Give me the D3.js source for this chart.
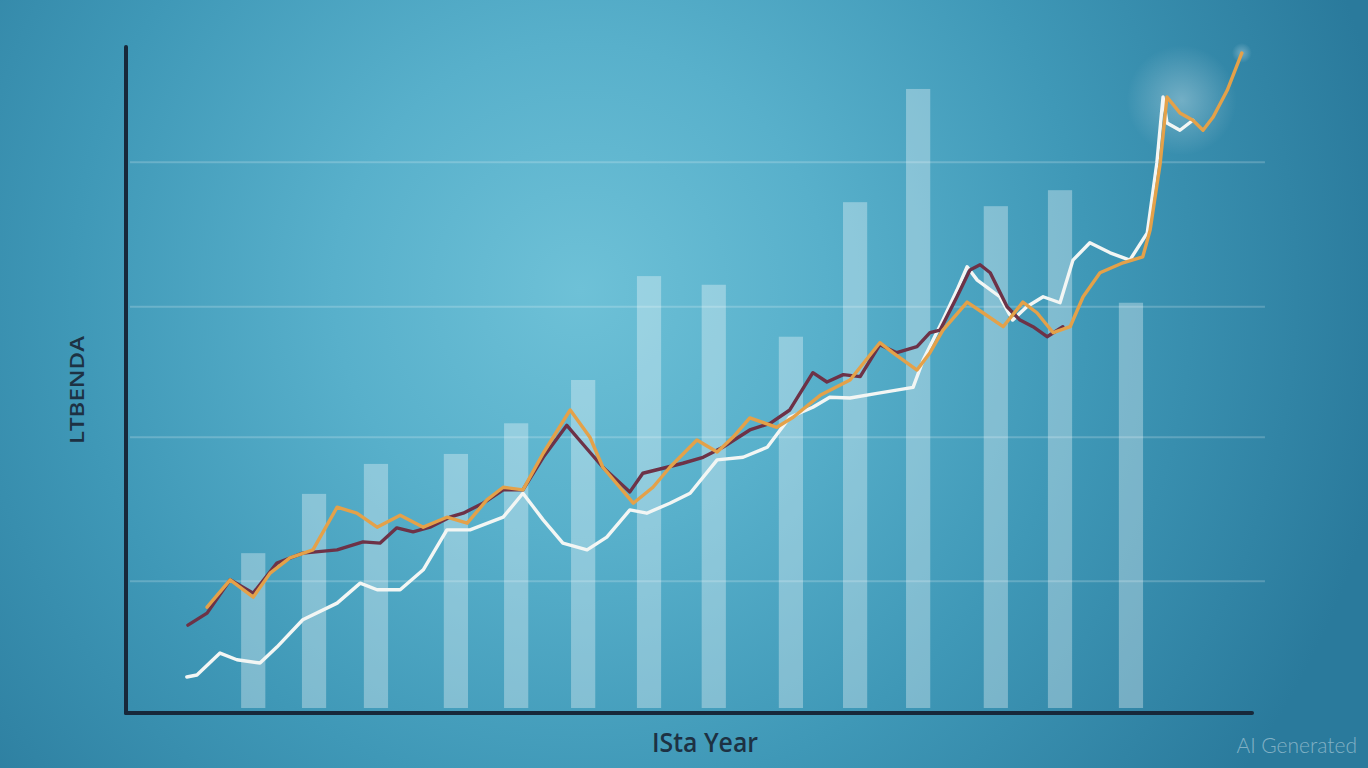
<!DOCTYPE html>
<html>
<head>
<meta charset="utf-8">
<script src="https://cdn.jsdelivr.net/npm/d3@7"></script>
<style>
  html, body { margin: 0; padding: 0; overflow: hidden; }
  svg { display: block; }
</style>
</head>
<body>
<div id="chart"></div>
<script>
// bar positions (year index) and heights
const barYears = [2.26, 3.34, 4.44, 5.86, 6.93, 8.12, 9.29, 10.44, 11.81, 12.95, 14.07, 15.45, 16.59, 17.85];
const barValues = [24.0, 32.9, 37.4, 38.9, 43.5, 50.0, 65.6, 64.3, 56.5, 76.7, 93.7, 76.1, 78.5, 61.6];

// maroon series
const maroonX = [1.10, 1.44, 1.85, 2.26, 2.68, 3.14, 3.75, 4.21, 4.51, 4.81, 5.10, 5.40, 5.75, 5.99, 6.34, 6.70, 7.05, 7.41, 7.83, 8.01, 8.47, 8.95, 9.18, 9.61, 9.89, 10.25, 10.60, 11.08, 11.44, 11.79, 12.20, 12.45, 12.74, 13.04, 13.39, 13.69, 14.05, 14.28, 14.46, 14.76, 14.99, 15.17, 15.35, 15.65, 15.88, 16.11, 16.36, 16.64];
const maroonY = [13.2, 15.0, 20.0, 18.0, 22.5, 24.0, 24.5, 25.7, 25.5, 27.8, 27.2, 27.9, 29.4, 30.0, 31.5, 33.5, 33.5, 38.4, 43.2, 41.4, 36.9, 33.2, 36.0, 36.9, 37.5, 38.4, 39.9, 42.5, 43.5, 45.5, 51.1, 49.7, 50.8, 50.5, 55.3, 54.1, 55.0, 57.1, 57.5, 62.5, 66.5, 67.3, 66.1, 61.0, 59.0, 58.0, 56.5, 58.0];

// orange series
const orangeX = [1.44, 1.85, 2.26, 2.56, 2.91, 3.32, 3.75, 4.10, 4.46, 4.87, 5.28, 5.70, 6.06, 6.41, 6.70, 7.05, 7.41, 7.89, 8.24, 8.47, 9.01, 9.36, 9.66, 10.14, 10.50, 10.78, 11.08, 11.56, 11.85, 12.33, 12.86, 13.39, 13.62, 14.05, 14.28, 14.51, 14.94, 15.22, 15.58, 15.93, 16.18, 16.47, 16.77, 17.00, 17.30, 17.71, 18.06, 18.19, 18.37, 18.49, 18.72, 18.95, 19.13, 19.31, 19.56, 19.82];
const orangeY = [15.9, 20.0, 17.4, 21.0, 23.3, 24.5, 30.9, 30.0, 27.9, 29.7, 27.9, 29.4, 28.5, 32.0, 33.9, 33.5, 39.0, 45.5, 41.4, 36.9, 31.5, 33.9, 36.9, 41.0, 39.2, 41.4, 44.3, 42.9, 44.4, 47.7, 50.0, 55.6, 54.1, 51.5, 54.1, 57.5, 61.7, 60.1, 58.0, 61.7, 60.1, 57.1, 58.0, 62.5, 66.1, 67.6, 68.5, 72.5, 82.6, 92.5, 90.1, 89.0, 87.5, 89.5, 93.5, 99.1];

// white series
const whiteX = [1.08, 1.26, 1.67, 1.97, 2.38, 2.68, 3.14, 3.75, 4.16, 4.46, 4.87, 5.28, 5.70, 6.11, 6.70, 7.05, 7.41, 7.76, 8.19, 8.54, 8.95, 9.25, 9.66, 10.02, 10.50, 10.96, 11.39, 11.79, 12.20, 12.50, 12.86, 13.34, 13.98, 14.16, 14.51, 14.76, 14.94, 15.12, 15.52, 15.75, 16.00, 16.29, 16.59, 16.82, 17.12, 17.48, 17.83, 18.14, 18.31, 18.42, 18.49, 18.72, 18.95];
const whiteY = [5.4, 5.7, 9.0, 8.0, 7.5, 9.9, 14.0, 16.5, 19.5, 18.5, 18.5, 21.5, 27.5, 27.5, 29.4, 33.0, 29.0, 25.5, 24.5, 26.4, 30.5, 30.0, 31.5, 33.0, 38.0, 38.4, 39.9, 44.4, 45.9, 47.4, 47.3, 48.0, 48.9, 53.0, 59.0, 63.5, 67.0, 65.0, 62.5, 59.0, 61.0, 62.5, 61.6, 68.0, 70.6, 69.1, 68.0, 72.1, 82.6, 92.5, 88.6, 87.5, 89.0];

const gridValues = [19.8, 41.4, 61.0, 82.7];
const yLabel = "LTBENDA";
const xLabel = "ISta Year";
const watermark = "AI Generated";

const W = 1368, H = 768;
const margin = { top: 47, right: 116, bottom: 55, left: 126 };

const svg = d3.select("#chart").append("svg")
    .attr("width", W)
    .attr("height", H);

const defs = svg.append("defs");

// background radial gradient
const bg = defs.append("radialGradient")
    .attr("id", "bg")
    .attr("gradientUnits", "userSpaceOnUse")
    .attr("cx", 580).attr("cy", 290).attr("r", 820);
bg.append("stop").attr("offset", "0%").attr("stop-color", "#6ec1d7");
bg.append("stop").attr("offset", "30%").attr("stop-color", "#58b0cb");
bg.append("stop").attr("offset", "62%").attr("stop-color", "#3f98b7");
bg.append("stop").attr("offset", "100%").attr("stop-color", "#2a7a9c");

const glow = defs.append("radialGradient").attr("id", "glow");
glow.append("stop").attr("offset", "0%").attr("stop-color", "#ffffff").attr("stop-opacity", 0.3);
glow.append("stop").attr("offset", "100%").attr("stop-color", "#ffffff").attr("stop-opacity", 0);

svg.append("rect")
    .attr("width", W).attr("height", H)
    .attr("fill", "url(#bg)");

// scales
const x = d3.scaleLinear().domain([0, 20]).range([margin.left, W - margin.right]);
const y = d3.scaleLinear().domain([0, 100]).range([H - margin.bottom, margin.top]);

// grid lines
svg.append("g")
    .selectAll("line")
    .data(gridValues)
    .join("line")
    .attr("x1", x(0.07)).attr("x2", x(20.23))
    .attr("y1", d => y(d)).attr("y2", d => y(d))
    .attr("stroke", "#ffffff")
    .attr("stroke-opacity", 0.2)
    .attr("stroke-width", 2);

// bars
const barW = x(0.43) - x(0);
svg.append("g")
    .selectAll("rect")
    .data(barYears)
    .join("rect")
    .attr("x", d => x(d) - barW / 2)
    .attr("width", barW)
    .attr("y", (d, i) => y(barValues[i]))
    .attr("height", (d, i) => y(0.75) - y(barValues[i]))
    .attr("fill", "#ffffff")
    .attr("fill-opacity", 0.33);

// soft glow near the peak
svg.append("circle")
    .attr("cx", x(18.75)).attr("cy", y(92))
    .attr("r", 55)
    .attr("fill", "url(#glow)");
svg.append("circle")
    .attr("cx", x(19.82)).attr("cy", y(99.1))
    .attr("r", 10)
    .attr("fill", "url(#glow)");

// lines
const line = d3.line()
    .x(d => x(d[0]))
    .y(d => y(d[1]))
    .curve(d3.curveLinear);

const series = [
    { xs: whiteX, ys: whiteY, color: "#f3f6f4", w: 3.4 },
    { xs: maroonX, ys: maroonY, color: "#6d3247", w: 3.4 },
    { xs: orangeX, ys: orangeY, color: "#e4a149", w: 3.4 }
];

svg.append("g")
    .selectAll("path")
    .data(series)
    .join("path")
    .attr("d", s => line(s.xs.map((v, i) => [v, s.ys[i]])))
    .attr("fill", "none")
    .attr("stroke", s => s.color)
    .attr("stroke-width", s => s.w)
    .attr("stroke-linejoin", "round")
    .attr("stroke-linecap", "round");

// axes (plain lines, no ticks)
const axisColor = "#17283a";
svg.append("line")
    .attr("x1", x(0)).attr("x2", x(0))
    .attr("y1", y(100)).attr("y2", y(0))
    .attr("stroke", axisColor)
    .attr("stroke-width", 4)
    .attr("stroke-linecap", "round");
svg.append("line")
    .attr("x1", x(0)).attr("x2", x(20))
    .attr("y1", y(0)).attr("y2", y(0))
    .attr("stroke", axisColor)
    .attr("stroke-width", 4)
    .attr("stroke-linecap", "round");

// labels
svg.append("text")
    .attr("transform", `translate(84,${y(48.5)}) rotate(-90)`)
    .attr("text-anchor", "middle")
    .attr("font-family", "'Open Sans', sans-serif")
    .attr("font-weight", 600)
    .attr("font-size", 19)
    .attr("textLength", 108)
    .attr("lengthAdjust", "spacingAndGlyphs")
    .attr("fill", "#1d3143")
    .text(yLabel);

svg.append("text")
    .attr("x", 705)
    .attr("y", 752)
    .attr("text-anchor", "middle")
    .attr("font-family", "'Open Sans', sans-serif")
    .attr("font-weight", 600)
    .attr("font-size", 27)
    .attr("textLength", 106)
    .attr("lengthAdjust", "spacingAndGlyphs")
    .attr("fill", "#1d3143")
    .text(xLabel);

svg.append("text")
    .attr("x", 1357)
    .attr("y", 753)
    .attr("text-anchor", "end")
    .attr("font-family", "Lato, 'Open Sans', sans-serif")
    .attr("font-weight", 300)
    .attr("font-size", 21)
    .attr("fill", "#ffffff")
    .attr("fill-opacity", 0.42)
    .text(watermark);
</script>
</body>
</html>
